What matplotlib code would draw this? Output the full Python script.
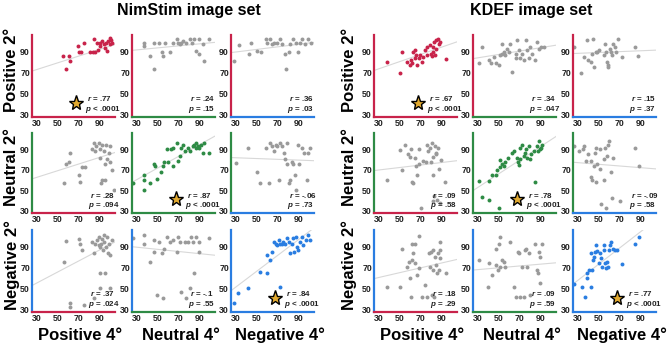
import numpy as np
import matplotlib
matplotlib.use('Agg')
import matplotlib.pyplot as plt

plt.rcParams['font.family'] = ['Liberation Sans', 'DejaVu Sans']
plt.rcParams['mathtext.fontset'] = 'custom'
plt.rcParams['mathtext.it'] = 'Liberation Sans:italic:bold'
plt.rcParams['mathtext.rm'] = 'Liberation Sans:bold'

# ---- NimStim data (x = 4 deg, y = 2 deg) ----
nim_pp_x = [55, 58, 61, 61.4, 69, 70.7, 72.6, 75, 81, 84, 85, 88, 89, 91, 92.5, 94, 96, 97, 98, 100, 101, 102, 100.5, 95, 91, 86]
nim_pp_y = [86, 74, 86, 81.6, 95.6, 89.4, 89.4, 98, 89.4, 89.4, 102, 98, 91.6, 98.8, 100, 97, 98.8, 91, 100, 97, 101, 98, 103, 94, 95.6, 89.4]
nim_pn_x = [36.3, 36.3, 42, 46.4, 46.4, 51.5, 53.7, 55.2, 56.8, 61.5, 64.7, 67.9, 69.4, 72.6, 74, 77.3, 80.5, 83, 85.2, 86.8, 90, 90, 93, 94.7, 99.4, 71]
nim_pn_y = [98.8, 95.6, 86, 73.8, 98.8, 98.8, 89.4, 86, 98.8, 89.4, 98.8, 102, 98.8, 98.8, 100, 98.8, 102, 98, 102, 91, 102, 88, 97, 81.6, 102, 97]
nim_pg_x = [27.5, 33, 42.6, 44, 50.5, 53.7, 58.4, 60, 63, 64.7, 66.3, 69.4, 72.6, 74, 77.3, 78.2, 80.5, 82, 85, 88, 90, 91.5, 93, 96, 99.4, 102.5]
nim_pg_y = [81, 96.6, 87.8, 98.8, 91, 89.4, 102, 98.8, 102, 97, 98.8, 98.8, 102, 97, 87.8, 73.8, 89.4, 97, 102, 98.8, 89.4, 98.8, 102, 97, 102, 98.8]

nim_np_x = [55.6, 58.2, 60.4, 61.4, 70, 71, 73.3, 76.5, 83, 84.5, 86, 87, 89.3, 91, 91, 92.5, 92.5, 94, 95.7, 95.7, 96.7, 97.3, 99, 100, 100.5, 102, 103.7, 91.5]
nim_np_y = [57, 76, 77.4, 86.8, 64.8, 58.5, 73.3, 72.6, 90, 96.3, 88.4, 93, 96.3, 90, 82, 94.7, 60, 88.4, 60, 75.8, 94.7, 80.5, 86.8, 77.4, 93, 69.5, 50.5, 57]
nim_nn_x = [26, 36.3, 36.3, 36.3, 42.6, 45.8, 47.4, 49, 52.7, 55.2, 56, 58.4, 60, 63, 64.7, 64.7, 68, 69.4, 71, 72.6, 74, 75.7, 78.9, 80.5, 83.6, 85.2, 86.8, 88.4, 90, 91.5, 93, 94.7, 98.8, 86.8]
nim_nn_y = [57, 64.8, 60, 50.5, 57, 75.8, 74.2, 61.6, 68, 74.2, 77.4, 90, 77.4, 90, 91.6, 74.2, 96.3, 79, 83.7, 91.6, 94.7, 88.4, 91.6, 88.4, 93, 94.7, 96.3, 93, 91.6, 94.7, 86.8, 96.3, 86.8, 91.6]
nim_ng_x = [29.4, 41, 50.5, 53, 58.4, 61.5, 63, 64.7, 66.3, 68, 69.4, 71, 72.6, 74, 75.7, 77.3, 78.9, 78.9, 80.5, 82, 83.6, 85.2, 86.8, 87.7, 90, 91, 93, 95.3, 97.8, 99.4, 101]
nim_ng_y = [76.4, 91.6, 68, 57, 91.6, 57.5, 96.3, 93, 88.4, 94.7, 93, 60, 96.3, 93, 86.8, 80.5, 96.3, 75.8, 57, 60, 77.4, 75.8, 64.8, 50.5, 94.7, 75.8, 91.6, 86.8, 60, 86.8, 91.6]

nim_gp_x = [55.6, 58.2, 61.4, 61.4, 70, 71.5, 73.3, 75, 84.5, 83, 84.5, 86, 87.7, 89.3, 90, 91, 91, 91.6, 92.5, 93.5, 94, 94.7, 95.7, 96.7, 97.3, 98, 99, 100.5, 100.5, 102, 91]
nim_gp_y = [75.8, 95.7, 33, 37, 97, 93, 86.8, 34.8, 41, 94.7, 83.7, 93, 96.3, 91.6, 99.5, 90, 64.8, 93, 97.9, 86.8, 94.7, 101, 64.8, 90, 99.5, 83.7, 93, 82, 50.5, 96.3, 50.5]
nim_gn_x = [26, 36.3, 36.3, 42, 45.8, 46.4, 49, 51.5, 53.7, 55.2, 56, 58.4, 61.5, 64.7, 68, 69.4, 71, 72.6, 75.7, 76.7, 78.9, 80.5, 82, 84, 85.2, 86.8, 90, 89.3, 99.4]
nim_gn_y = [98, 101, 93, 75.8, 96.3, 85.3, 44.3, 94.7, 83.7, 41, 88.4, 99.5, 94.7, 96.3, 85.3, 99.5, 94.7, 47.4, 94.7, 41, 94.7, 50.5, 99.5, 94.7, 64.8, 99.5, 94.7, 85.3, 98]
nim_gg_x = [27.8, 31.6, 41.7, 53, 60, 60, 63, 64.7, 66.3, 68, 69.4, 71, 72, 72.6, 75, 77.3, 78.9, 80.5, 82, 83.6, 84.5, 86, 87.7, 88.4, 90, 91.5, 93, 94.7, 97.2, 99.4, 101, 73.8]
nim_gg_y = [36.4, 45.8, 50.5, 66.3, 64.8, 82, 77.4, 85.3, 94.7, 93, 91.6, 96.3, 52, 93, 94.7, 93, 98, 94.7, 83.7, 93, 98, 85.3, 99.5, 90, 86.8, 94.7, 99.5, 91.6, 96.3, 101, 96.3, 93]

# ---- KDEF data ----
kdef_pp_x = [37.3, 49.9, 52, 56.8, 59.3, 60.6, 61.5, 63, 64.7, 65.6, 66.3, 67.9, 69.4, 71, 72.6, 74.2, 75.7, 76.4, 78.9, 79.5, 80.5, 81.4, 82, 83, 83.6, 84.6, 85.2, 86.8, 87.7, 88.4, 94, 64.7]
kdef_pp_y = [80.5, 70, 90, 80.5, 77.4, 82, 79, 90, 91.6, 86.8, 77.4, 83.7, 86.8, 80.5, 85.3, 91.6, 94.7, 86.8, 96.3, 88.4, 86, 90, 94.7, 99.5, 86.8, 93, 101, 102.6, 97.9, 99.5, 82.7, 83.7]
kdef_pn_x = [30.6, 33.8, 40.3, 41.9, 45, 46.7, 49.9, 50.8, 53, 53, 54.7, 56.3, 57.9, 59.5, 61, 62.7, 66, 66.9, 67.5, 69, 70.7, 72.3, 73.9, 76.5, 77.1, 78.7, 79.7, 82, 85, 86.7, 88.3, 90.6, 93.1]
kdef_pn_y = [79, 94.7, 82, 79, 85.3, 79, 77.4, 86.8, 97.9, 88.4, 90, 86.8, 93, 90, 97.9, 71, 88.4, 83.7, 101.7, 91.6, 83.7, 88.4, 82, 101.7, 91.6, 83.7, 94.7, 88.4, 82, 99.5, 93, 94.7, 94.7]
kdef_pg_x = [26.2, 32.5, 35.7, 38.2, 39.5, 42, 43.6, 44.5, 45, 46.7, 48.3, 49.9, 54.6, 56.2, 57.1, 57.8, 58.4, 58.4, 60.3, 61.5, 62.5, 64, 65.6, 66.6, 68.8, 72, 84.6, 87.7]
kdef_pg_y = [94.7, 70, 85.3, 101, 82, 80.5, 88.4, 102.6, 75.8, 90, 90, 91.6, 86.8, 97.9, 90, 80.5, 77.4, 75.8, 93, 90, 86.8, 97.9, 94.7, 90, 102.6, 85.3, 94.7, 85.9]

kdef_np_x = [37.3, 49.9, 52, 55.2, 57.4, 59.3, 60.6, 61.5, 62.5, 64.7, 65.6, 66.3, 67.9, 68.8, 70, 72.6, 75, 75.7, 77.3, 78.9, 79.5, 80.5, 81.4, 82, 82.6, 83.6, 84.6, 85.2, 85.8, 86.8, 87.7, 88.4, 90, 93, 82]
kdef_np_y = [60, 89, 69.5, 94.7, 85.3, 82.7, 90, 58.5, 57, 82, 74.2, 64.8, 90, 75.8, 33, 79, 77.4, 94.7, 88.4, 91.6, 77.4, 96.3, 82.7, 64.8, 44.3, 93, 85.3, 86.8, 41, 91.6, 71, 38, 79.6, 58.5, 39.5]
kdef_nn_x = [30.6, 33.8, 40.3, 40.3, 43.5, 47.6, 48.3, 49.9, 51.5, 51.5, 53, 54.7, 56.3, 58.9, 62.7, 64.3, 67.5, 68.1, 69.1, 70, 70.7, 72.3, 73.9, 75.5, 76.5, 77.1, 78.7, 79.7, 81, 83.5, 84.5, 86.7, 87.3, 88.3, 89.3, 90.6, 91.5]
kdef_nn_y = [59.4, 43.6, 41, 59.4, 64.8, 64.8, 69.5, 33, 72.6, 79.6, 75.8, 74.2, 77.4, 82, 86.8, 88.4, 82, 77.4, 74.9, 80.5, 91.6, 94.7, 83.7, 86.8, 90, 82, 93, 80.5, 85.3, 88.4, 58.5, 93, 88.4, 97.9, 90, 91.6, 94.7]
kdef_ng_x = [26.2, 31, 35, 35.7, 37.3, 39.5, 42, 42.6, 43.6, 45.1, 45.8, 46.7, 46.7, 48.3, 50.8, 51.5, 52.4, 54.6, 55.2, 56.2, 57.1, 57.8, 58.4, 59.3, 61.5, 62.5, 64, 70.4, 84.6, 88.7]
kdef_ng_y = [93, 88.4, 90, 93, 79, 85.3, 79, 63.2, 60, 74.2, 86.8, 91.6, 58.5, 75.8, 90, 71, 36.4, 80.5, 60, 91, 33, 84, 94.7, 97.9, 68, 42.7, 82, 39.5, 91.6, 74.2]

kdef_gp_x = [37.3, 49.9, 52, 56.8, 58.4, 59.9, 61.5, 61.5, 60.6, 63, 64.7, 64.7, 66.3, 67.9, 68.8, 71, 74.2, 75.7, 78.3, 78.9, 79.5, 80.5, 81.4, 82, 82.6, 83.6, 84.6, 85.8, 86.8, 87.7, 88.4, 89, 88.4, 94]
kdef_gp_y = [51.5, 51.5, 88.4, 71, 75.8, 60, 93, 77.4, 42.7, 83.7, 93, 74.2, 63.2, 100, 69.5, 42.7, 53.7, 42.7, 83.7, 71, 85.3, 44.3, 68, 86.8, 42.7, 80.5, 72.6, 64.8, 84.3, 68, 94.7, 79, 86.8, 64.8]
kdef_gn_x = [30.6, 40.3, 39.3, 43.5, 46.7, 47.6, 49, 49.9, 50.8, 51.5, 53, 54.7, 56.3, 61, 64.3, 66.9, 68.1, 69, 70, 72.3, 73.9, 75.5, 76.5, 77.1, 78.7, 80.3, 84.5, 86.7, 87.3, 88.3, 89.3, 90, 91.5]
kdef_gn_y = [77.4, 74.2, 51.5, 63.2, 72.6, 88.4, 68, 93, 99.5, 71, 77.4, 75.8, 71, 94.7, 51.5, 42.7, 85.3, 83.7, 42.7, 71, 42.7, 86.8, 88.4, 71, 83.7, 44.3, 93, 68, 64.8, 85.3, 55.3, 80.5, 93]
kdef_gg_x = [26.2, 33.2, 36.3, 38.2, 38.8, 40.4, 42, 42.6, 43.6, 44.5, 45.1, 45.8, 46.7, 47.7, 49.9, 51.5, 52, 54.6, 55.2, 56.2, 57.1, 57.8, 58.4, 59.3, 60.9, 61.5, 63.4, 65.6, 67.2, 72, 84.6, 88.7, 53]
kdef_gg_y = [54.7, 51.5, 42.7, 60, 64.8, 68, 51.5, 83.7, 68, 77.4, 80.5, 85.3, 91.6, 86.2, 74.2, 83.7, 79, 86.8, 91.6, 74.2, 69.5, 75.8, 71, 86.8, 91.6, 94.7, 88.4, 86.8, 86.8, 73.6, 93, 99.5, 70.4]

# regression line ends (y at x=26 and x=105)
fit_x = [26, 105]
nim_fit = [[(72, 97), (91.5, 99), (89.4, 99)],
           [(61.6, 87), (58.5, 103), (82, 79)],
           [(53.7, 94.7), (90, 82), (49, 108)]]
kdef_fit = [[(72.6, 99.5), (83.7, 96.3), (88.4, 91.6)],
            [(69.5, 79), (50.5, 102.6), (77.4, 71)],
            [(60, 78), (68, 74.8), (55.3, 115.7)]]

nim_r = [['.77', '.24', '.36'], ['.28', '.87', '-.06'], ['.37', '-.1', '.84']]
nim_p = [['< .0001', '= .15', '= .03'], ['= .094', '< .0001', '= .73'], ['= .024', '= .55', '< .0001']]
kdef_r = [['.67', '.34', '.15'], ['.09', '.78', '-.09'], ['.18', '.09', '.77']]
kdef_p = [['< .0001', '= .047', '= .37'], ['= .58', '< .0001', '= .58'], ['= .29', '= .59', '< .0001']]

row_labels = ['Positive 2°', 'Neutral 2°', 'Negative 2°']
col_labels = ['Positive 4°', 'Neutral 4°', 'Negative 4°']
set_titles = ['NimStim image set', 'KDEF image set']
ticks = [30, 50, 70, 90]

nim_x = [[nim_pp_x, nim_pn_x, nim_pg_x], [nim_np_x, nim_nn_x, nim_ng_x], [nim_gp_x, nim_gn_x, nim_gg_x]]
nim_y = [[nim_pp_y, nim_pn_y, nim_pg_y], [nim_np_y, nim_nn_y, nim_ng_y], [nim_gp_y, nim_gn_y, nim_gg_y]]
kdef_x = [[kdef_pp_x, kdef_pn_x, kdef_pg_x], [kdef_np_x, kdef_nn_x, kdef_ng_x], [kdef_gp_x, kdef_gn_x, kdef_gg_x]]
kdef_y = [[kdef_pp_y, kdef_pn_y, kdef_pg_y], [kdef_np_y, kdef_nn_y, kdef_ng_y], [kdef_gp_y, kdef_gn_y, kdef_gg_y]]

colors = ['#c8234a', '#2e8b45', '#2a7de1']
W, H = 669, 347
group_x0 = [[32, 132, 231], [374, 473, 573]]
row_y = [(35, 117), (133, 213), (230, 312)]
ax_w = 83

fig = plt.figure(figsize=(W / 100, H / 100), dpi=100)

sets = [(nim_x, nim_y, nim_fit, nim_r, nim_p), (kdef_x, kdef_y, kdef_fit, kdef_r, kdef_p)]
for g, (xs, ys, fits, rs, ps) in enumerate(sets):
    for i in range(3):
        for j in range(3):
            top, bot = row_y[i]
            ax = fig.add_axes([group_x0[g][j] / W, 1 - bot / H, ax_w / W, (bot - top) / H])
            diag = i == j
            ax.set_xlim(25, 105)
            ax.set_ylim(28, 106)
            ax.plot(fit_x, fits[i][j], color='#d8d8d8', lw=0.8, zorder=1)
            ax.scatter(xs[i][j], ys[i][j], s=8, color=colors[i] if diag else '#9a9a9a', lw=0, zorder=2)
            for s in ['top', 'right']:
                ax.spines[s].set_visible(False)
            ax.spines['left'].set_color(colors[i])
            ax.spines['bottom'].set_color(colors[j])
            ax.spines['left'].set_linewidth(1.6)
            ax.spines['bottom'].set_linewidth(1.6)
            ax.set_xticks(ticks)
            ax.set_yticks(ticks)
            ax.tick_params(length=0, pad=1.5, labelsize=6.3, labelcolor='#222222')
            for lab in ax.get_xticklabels() + ax.get_yticklabels():
                lab.set_fontweight('bold')
            tx = 0.66 if diag else 0.70
            ax.text(tx, 0.19, r'$r$ = ' + rs[i][j], transform=ax.transAxes, fontsize=5.8,
                    fontweight='bold', color='#222222', clip_on=False)
            ax.text(tx - 0.02, 0.07, r'$p$ ' + ps[i][j], transform=ax.transAxes, fontsize=5.8,
                    fontweight='bold', color='#222222', clip_on=False)
            if diag:
                ax.plot([0.53], [0.17], marker='*', ms=11, mfc='#e2aa30', mec='black', mew=1.0,
                        transform=ax.transAxes, clip_on=False, zorder=3)

# titles and labels
title_x = [189, 531]
for g in range(2):
    fig.text(title_x[g] / W, 1 - 10 / H, set_titles[g], ha='center', va='center',
             fontsize=11.5, fontweight='bold')
    label_x = 12 if g == 0 else 349
    for i in range(3):
        top, bot = row_y[i]
        fig.text(label_x / W, 1 - ((top + bot) / 2 - 6) / H, row_labels[i], rotation=90,
                 ha='center', va='center', fontsize=12, fontweight='bold')
    for j in range(3):
        cx = group_x0[g][j] + ax_w / 2 + 7
        fig.text(cx / W, 1 - 335 / H, col_labels[j], ha='center', va='center',
                 fontsize=12, fontweight='bold')

plt.savefig('out.png', dpi=100)
